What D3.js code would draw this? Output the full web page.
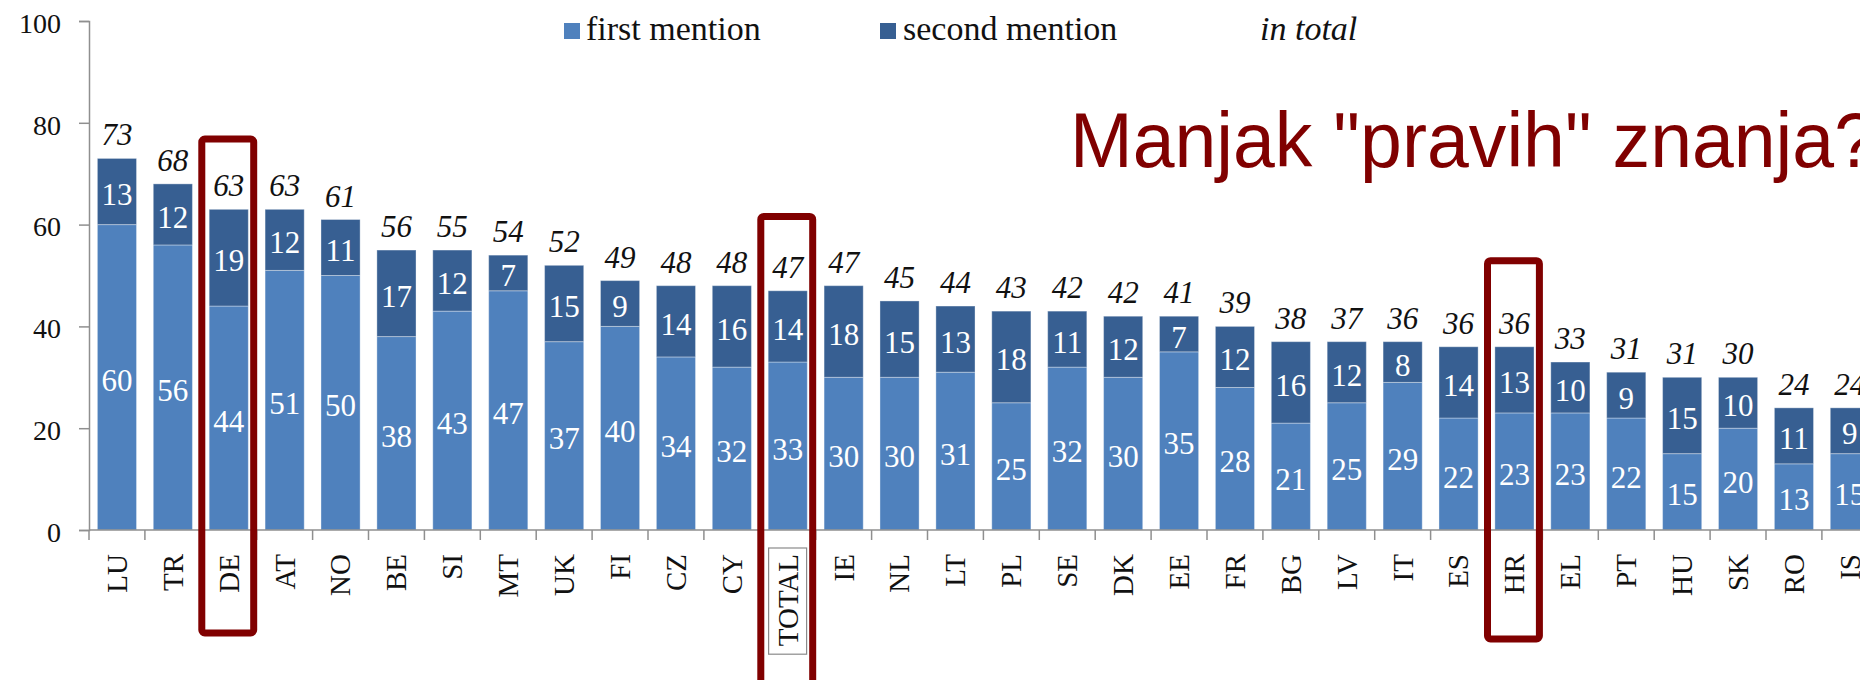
<!DOCTYPE html>
<html>
<head>
<meta charset="utf-8">
<script src="https://cdn.jsdelivr.net/npm/d3@7"></script>
<style>
    html, body { margin: 0; padding: 0; background: #fff; }
    svg { display: block; }
</style>
</head>
<body>
<div class="chart"></div>
<script>
var categories = ["LU", "TR", "DE", "AT", "NO", "BE", "SI", "MT", "UK", "FI", "CZ", "CY", "TOTAL", "IE", "NL", "LT",
    "PL", "SE", "DK", "EE", "FR", "BG", "LV", "IT", "ES", "HR", "EL", "PT", "HU", "SK", "RO", "IS"];
var firstMention = [60, 56, 44, 51, 50, 38, 43, 47, 37, 40, 34, 32, 33, 30, 30, 31,
    25, 32, 30, 35, 28, 21, 25, 29, 22, 23, 23, 22, 15, 20, 13, 15];
var secondMention = [13, 12, 19, 12, 11, 17, 12, 7, 15, 9, 14, 16, 14, 18, 15, 13,
    18, 11, 12, 7, 12, 16, 12, 8, 14, 13, 10, 9, 15, 10, 11, 9];
var inTotal = [73, 68, 63, 63, 61, 56, 55, 54, 52, 49, 48, 48, 47, 47, 45, 44,
    43, 42, 42, 41, 39, 38, 37, 36, 36, 36, 33, 31, 31, 30, 24, 24];
var yTicks = [0, 20, 40, 60, 80, 100];
var legendLabels = ["first mention", "second mention", "in total"];
var highlighted = ["DE", "TOTAL", "HR"];
var titleText = "Manjak \"pravih\" znanja?";

var width = 1860, height = 680;
var serif = '"Liberation Serif", "Times New Roman", serif';
var colFirst = "#4f81bd", colSecond = "#375f92", axisCol = "#8f8f8f", red = "#800000";

var svg = d3.select(".chart").append("svg")
    .attr("width", width)
    .attr("height", height);

var step = 55.9;
var x = d3.scaleBand()
    .domain(categories)
    .range([89, 89 + categories.length * step])
    .paddingInner(0.3)
    .paddingOuter(0.15);

var y = d3.scaleLinear()
    .domain([0, 100])
    .range([530, 21]);

var rows = categories.map(function (c, i) {
    return {cat: c, first: firstMention[i], second: secondMention[i], total: inTotal[i]};
});

// y axis
var yAxis = svg.append("g")
    .attr("transform", "translate(89,0)")
    .call(d3.axisLeft(y).tickValues(yTicks).tickSize(10).tickPadding(18));
yAxis.select(".domain").attr("stroke", axisCol).attr("stroke-width", 1.5);
yAxis.selectAll(".tick line").attr("stroke", axisCol).attr("stroke-width", 1.5);
yAxis.selectAll(".tick text")
    .style("font-family", serif)
    .style("font-size", "28px")
    .attr("fill", "#111")
    .attr("dy", "0.4em");

// bars
var bars = svg.append("g");
bars.selectAll("rect.first")
    .data(rows)
    .enter().append("rect")
    .attr("class", "first")
    .attr("x", function (d) { return x(d.cat); })
    .attr("width", x.bandwidth())
    .attr("y", function (d) { return y(d.first); })
    .attr("height", function (d) { return y(0) - y(d.first); })
    .attr("fill", colFirst)
    .attr("stroke", "rgba(255,255,255,0.35)")
    .attr("stroke-width", 1);

bars.selectAll("rect.second")
    .data(rows)
    .enter().append("rect")
    .attr("class", "second")
    .attr("x", function (d) { return x(d.cat); })
    .attr("width", x.bandwidth())
    .attr("y", function (d) { return y(d.first + d.second); })
    .attr("height", function (d) { return y(d.first) - y(d.first + d.second); })
    .attr("fill", colSecond)
    .attr("stroke", "rgba(255,255,255,0.35)")
    .attr("stroke-width", 1);

// x axis: line plus ticks on the band boundaries
var xAxis = svg.append("g");
xAxis.append("line")
    .attr("x1", 89).attr("x2", width)
    .attr("y1", y(0)).attr("y2", y(0))
    .attr("stroke", axisCol).attr("stroke-width", 1.5);
var bounds = categories.map(function (c) { return x(c) - x.step() * 0.15; });
xAxis.selectAll("line.tick")
    .data(bounds)
    .enter().append("line")
    .attr("class", "tick")
    .attr("x1", function (d) { return d; }).attr("x2", function (d) { return d; })
    .attr("y1", y(0)).attr("y2", y(0) + 10)
    .attr("stroke", axisCol).attr("stroke-width", 1.5);

var xLabels = xAxis.selectAll("g.lbl")
    .data(categories)
    .enter().append("g")
    .attr("class", "lbl")
    .attr("transform", function (d) {
        return "translate(" + (x(d) + x.bandwidth() / 2) + "," + (y(0) + 24) + ") rotate(-90)";
    });
xLabels.append("text")
    .attr("text-anchor", "end")
    .attr("dy", "0.34em")
    .style("font-family", serif)
    .style("font-size", "29px")
    .attr("fill", "#111")
    .text(function (d) { return d; });
xLabels.filter(function (d) { return d === "TOTAL"; })
    .each(function () {
        var g = d3.select(this);
        var bb = g.select("text").node().getBBox();
        g.insert("rect", "text")
            .attr("x", bb.x - 8)
            .attr("y", bb.y - 3)
            .attr("width", bb.width + 14)
            .attr("height", bb.height + 6)
            .attr("fill", "none")
            .attr("stroke", "#8a8a8a")
            .attr("stroke-width", 1.2);
    });

// segment labels
var labels = svg.append("g")
    .style("font-family", serif)
    .style("font-size", "31px")
    .attr("text-anchor", "middle");
labels.selectAll("text.first")
    .data(rows)
    .enter().append("text")
    .attr("x", function (d) { return x(d.cat) + x.bandwidth() / 2; })
    .attr("y", function (d) { return (y(0) + y(d.first)) / 2 + 3; })
    .attr("dy", "0.34em")
    .attr("fill", "#fff")
    .text(function (d) { return d.first; });
labels.selectAll("text.second")
    .data(rows)
    .enter().append("text")
    .attr("x", function (d) { return x(d.cat) + x.bandwidth() / 2; })
    .attr("y", function (d) { return (y(d.first) + y(d.first + d.second)) / 2 + 3; })
    .attr("dy", "0.34em")
    .attr("fill", "#fff")
    .text(function (d) { return d.second; });
labels.selectAll("text.total")
    .data(rows)
    .enter().append("text")
    .attr("x", function (d) { return x(d.cat) + x.bandwidth() / 2; })
    .attr("y", function (d) { return y(d.first + d.second) - 13; })
    .style("font-style", "italic")
    .attr("fill", "#111")
    .text(function (d) { return d.total; });

// legend
var legend = svg.append("g")
    .style("font-family", serif)
    .style("font-size", "34px")
    .attr("fill", "#111");
legend.append("rect").attr("x", 564).attr("y", 23).attr("width", 16).attr("height", 16).attr("fill", colFirst);
legend.append("text").attr("x", 586).attr("y", 40).text(legendLabels[0]);
legend.append("rect").attr("x", 880).attr("y", 23).attr("width", 16).attr("height", 16).attr("fill", colSecond);
legend.append("text").attr("x", 903).attr("y", 40).text(legendLabels[1]);
legend.append("text").attr("x", 1260).attr("y", 40).style("font-style", "italic").text(legendLabels[2]);

// red highlight frames
var frameTops = {DE: 77.5, TOTAL: 62.3, HR: 53.6};
var frameBottoms = {DE: 633, TOTAL: 700, HR: 639};
svg.append("g").selectAll("rect")
    .data(highlighted)
    .enter().append("rect")
    .attr("x", function (d) { return x(d) - x.step() * 0.15 + 1; })
    .attr("y", function (d) { return y(frameTops[d]) + 3.5; })
    .attr("width", x.step() - 4)
    .attr("height", function (d) { return frameBottoms[d] - y(frameTops[d]) - 3.5; })
    .attr("rx", 3)
    .attr("fill", "none")
    .attr("stroke", red)
    .attr("stroke-width", 7);

// overlay title
svg.append("text")
    .attr("x", 1070)
    .attr("y", 167)
    .attr("textLength", 806)
    .attr("lengthAdjust", "spacingAndGlyphs")
    .style("font-family", '"Liberation Sans", Arial, sans-serif')
    .style("font-size", "77px")
    .attr("fill", red)
    .text(titleText);
</script>
</body>
</html>
